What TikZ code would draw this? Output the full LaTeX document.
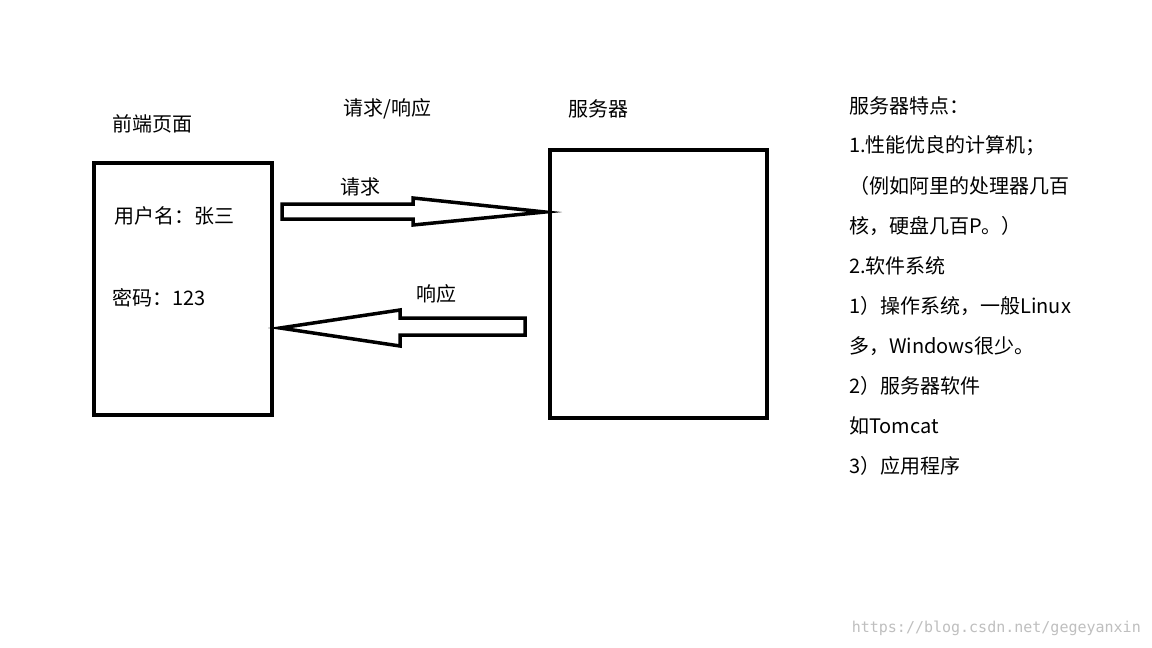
\documentclass[tikz,border=0pt]{standalone}
\usepackage{fontspec}
\setmainfont{Noto Sans CJK SC}
\newfontfamily\wm{DejaVu Sans Mono}
\begin{document}
\begin{tikzpicture}[x=1pt,y=-1pt,
  lbl/.style={anchor=west,inner sep=0pt,font=\fontsize{20}{22}\selectfont},
  boxs/.style={draw,line width=3.5pt},
  arr/.style={draw,line width=3.5pt,line join=miter}]
\useasboundingbox[fill=white] (0,0) rectangle (1152,648);
\node[boxs,minimum width=178pt,minimum height=252pt,anchor=north west] (fe) at (92,161) {};
\node[boxs,minimum width=217pt,minimum height=268pt,anchor=north west] (srv) at (548,148) {};
\node[lbl] (t1) at (112,124) {前端页面};
\node[lbl] (t2) at (343,109) {请求/响应};
\node[lbl] (t3) at (568,109) {服务器};
\node[lbl] (u) at (114,216) {用户名：张三};
\node[lbl] (p) at (112,298) {密码：123};
\node[lbl] (rq) at (340,187) {请求};
\node[lbl] (rs) at (416,294) {响应};
\coordinate (reqtip) at (545,212);
\coordinate (restip) at (280,328);
\draw[arr] (282,204) -- (413,204) -- (413,198) -- (reqtip) -- (413,225) -- (413,219) -- (282,219) -- cycle;
\draw[arr] (525,318) -- (400,318) -- (400,310) -- (restip) -- (400,346) -- (400,335) -- (525,335) -- cycle;
\foreach \t [count=\i from 0] in {服务器特点：,1.性能优良的计算机；,（例如阿里的处理器几百,核，硬盘几百P。）,2.软件系统,1）操作系统，一般Linux,多，Windows很少。,2）服务器软件,如Tomcat,3）应用程序}
  \node[lbl] (r\i) at (849,106+40*\i) {\t};
\node[anchor=east,inner sep=0pt,text=black!25,font=\wm\fontsize{15}{17}\selectfont] (wmk) at (1141,628) {https://blog.csdn.net/gegeyanxin};
\end{tikzpicture}
\end{document}
